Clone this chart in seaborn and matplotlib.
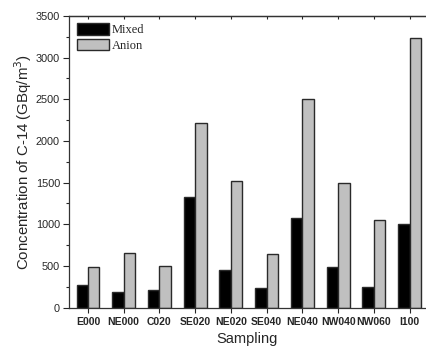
import seaborn as sns
import matplotlib.pyplot as plt
import pandas as pd

sites = ["E000", "NE000", "C020", "SE020", "NE020", "SE040", "NE040", "NW040", "NW060", "I100"]
mixed = [272, 190, 210, 1325, 452, 232, 1072, 484, 248, 1004]
anion = [486, 658, 494, 2216, 1524, 648, 2503, 1496, 1048, 3240]

df = pd.DataFrame({
    "Sampling": sites * 2,
    "value": mixed + anion,
    "type": ["Mixed"] * len(sites) + ["Anion"] * len(sites),
})

sns.set_style("ticks")
plt.rcParams["font.family"] = ["Liberation Sans", "DejaVu Sans"]

fig = plt.figure(figsize=(4.27, 3.54), dpi=100)
ax = fig.add_axes([0.1616, 0.131, 0.836, 0.824])

sns.barplot(
    data=df,
    x="Sampling",
    y="value",
    hue="type",
    palette={"Mixed": "black", "Anion": "#c0c0c0"},
    width=0.64,
    edgecolor="#2a2a2a",
    linewidth=1,
    ax=ax,
)

ax.set_ylim(0, 3500)
ax.set_xlim(-0.53, 9.46)
ax.set_yticks(range(0, 3501, 500))
ax.set_yticks(range(250, 3500, 500), minor=True)
ax.tick_params(axis="y", labelsize=7.8, length=4.5, width=0.8, pad=2)
ax.tick_params(axis="y", which="minor", length=2.5, width=0.8)
ax.tick_params(axis="x", labelsize=7.5, length=3.6, width=0.8, pad=3)
for lab in ax.get_xticklabels():
    lab.set_fontweight("bold")
ax.spines["right"].set_visible(False)
for s in ["left", "bottom", "top"]:
    ax.spines[s].set_linewidth(0.9)
    ax.spines[s].set_color("#333333")

# small inward ticks along the top edge
top = ax.secondary_xaxis("top")
top.set_xticks(range(len(sites)))
top.tick_params(direction="in", length=2.5, width=0.8, labeltop=False)
top.spines["top"].set_linewidth(0.9)
top.spines["top"].set_color("#333333")

ax.set_xlabel("Sampling", fontsize=10.5, labelpad=4)
ax.set_ylabel("Concentration of C-14 (GBq/m$^3$)", fontsize=10.8, labelpad=1)

ax.legend(
    loc="upper left",
    frameon=False,
    prop={"family": "Liberation Serif", "size": 9},
    handlelength=2.6,
    handleheight=1.0,
    handletextpad=0.2,
    borderaxespad=0.2,
    labelspacing=0.2,
)

fig.savefig("out.png", dpi=100)
